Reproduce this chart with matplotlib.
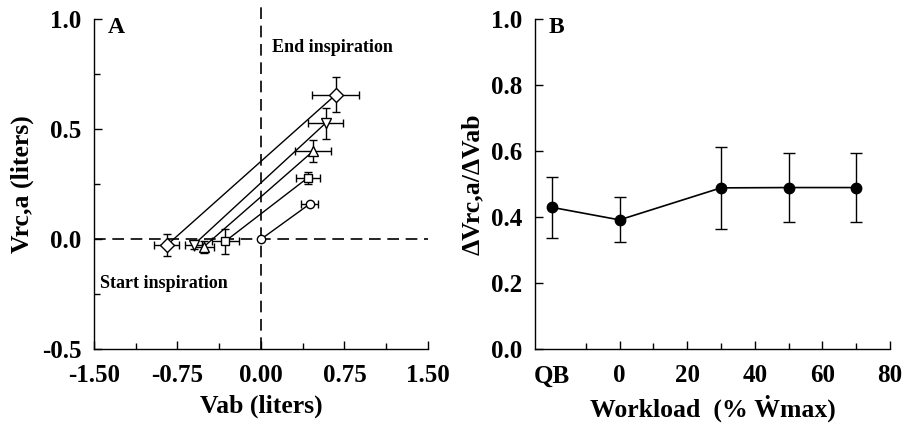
import numpy as np
import matplotlib
matplotlib.use('Agg')
import matplotlib.pyplot as plt

plt.rcParams['font.family'] = ['Liberation Serif', 'DejaVu Serif']
plt.rcParams['font.weight'] = 'bold'

# Panel A: start / end of inspiration per workload level
markers_a = ['o', 's', '^', 'v', 'D']
start_x = [0.0, -0.32, -0.515, -0.605, -0.845]
start_y = [0.0, -0.009, -0.035, -0.026, -0.027]
start_xerr = [0.0, 0.123, 0.09, 0.08, 0.113]
start_yerr = [0.0, 0.057, 0.027, 0.02, 0.05]
end_x = [0.437, 0.422, 0.467, 0.581, 0.671]
end_y = [0.16, 0.28, 0.40, 0.528, 0.657]
end_xerr = [0.078, 0.108, 0.158, 0.16, 0.21]
end_yerr = [0.0, 0.027, 0.051, 0.07, 0.079]
marker_size = [6, 6, 7, 7, 7.5]

# Panel B: slope vs workload (QB plotted at -20)
work_x = [-20, 0, 30, 50, 70]
ratio = [0.43, 0.392, 0.489, 0.49, 0.49]
ratio_err = [0.092, 0.068, 0.124, 0.105, 0.105]

fig = plt.figure(figsize=(9.03, 4.29), dpi=100)
axA = fig.add_axes([0.104, 0.186, 0.370, 0.769])
axB = fig.add_axes([0.5925, 0.186, 0.393, 0.769])

tick_fs = 18
lab_fs = 18.5

# ---- Panel A ----
axA.plot([0, 0], [-0.5, 1.07], color='black', lw=1.2, ls=(0, (7, 4)), clip_on=False, zorder=1)
axA.axhline(0, color='black', lw=1.2, ls=(0, (7, 4)), zorder=1)
for i in range(len(markers_a)):
    axA.plot([start_x[i], end_x[i]], [start_y[i], end_y[i]], color='black', lw=1.0, zorder=2)
    for px, py, ex, ey in [(start_x[i], start_y[i], start_xerr[i], start_yerr[i]),
                           (end_x[i], end_y[i], end_xerr[i], end_yerr[i])]:
        axA.errorbar(px, py, xerr=ex if ex > 0 else None, yerr=ey if ey > 0 else None,
                     fmt=markers_a[i], ms=marker_size[i], mfc='white', mec='black', mew=1.0,
                     ecolor='black', elinewidth=1.0, capsize=3, capthick=1.0, zorder=3)

axA.set_xlim(-1.5, 1.5)
axA.set_ylim(-0.5, 1.0)
axA.set_xticks([-1.5, -0.75, 0, 0.75, 1.5])
axA.set_xticklabels(['-1.50', '-0.75', '0.00', '0.75', '1.50'])
axA.set_xticks([-1.125, -0.375, 0.375, 1.125], minor=True)
axA.set_yticks([-0.5, 0.0, 0.5, 1.0])
axA.set_yticklabels(['-0.5', '0.0', '0.5', '1.0'])
axA.set_yticks([-0.25, 0.25, 0.75], minor=True)
axA.set_xlabel('Vab (liters)', fontsize=lab_fs, fontweight='bold', labelpad=5)
axA.set_ylabel('Vrc,a (liters)', fontsize=lab_fs, fontweight='bold', labelpad=6)
axA.text(0.042, 0.974, 'A', transform=axA.transAxes, fontsize=17, fontweight='bold', va='center')
axA.text(0.533, 0.916, 'End inspiration', transform=axA.transAxes, fontsize=13,
         fontweight='bold', va='center')
axA.text(0.018, 0.20, 'Start inspiration', transform=axA.transAxes, fontsize=13,
         fontweight='bold', va='center')

# ---- Panel B ----
axB.errorbar(work_x, ratio, yerr=ratio_err, fmt='o-', color='black', ms=7.5,
             lw=1.2, elinewidth=1.0, capsize=4, capthick=1.0, zorder=3)
axB.set_xlim(-25, 80)
axB.set_ylim(0.0, 1.0)
axB.set_xticks([-20, 0, 20, 40, 60, 80])
axB.set_xticklabels(['QB', '0', '20', '40', '60', '80'])
axB.set_xticks([-10, 10, 30, 50, 70], minor=True)
axB.xaxis.get_major_ticks()[0].tick1line.set_visible(False)
axB.set_yticks([0.0, 0.2, 0.4, 0.6, 0.8, 1.0])
axB.set_yticklabels(['0.0', '0.2', '0.4', '0.6', '0.8', '1.0'])
axB.set_xlabel('Workload  (% \u1E86max)', fontsize=lab_fs, fontweight='bold', labelpad=5)
axB.set_ylabel('\u0394Vrc,a/\u0394Vab', fontsize=lab_fs, fontweight='bold', labelpad=5)
axB.text(0.037, 0.974, 'B', transform=axB.transAxes, fontsize=17, fontweight='bold', va='center')

for ax in (axA, axB):
    ax.spines['top'].set_visible(False)
    ax.spines['right'].set_visible(False)
    for s in ('left', 'bottom'):
        ax.spines[s].set_linewidth(1.0)
    ax.tick_params(which='major', direction='in', length=6, width=1.0, labelsize=tick_fs, pad=9)
    ax.tick_params(axis='x', which='major', pad=11)
    ax.tick_params(which='minor', direction='in', length=4, width=1.0)
    for lbl in ax.get_xticklabels() + ax.get_yticklabels():
        lbl.set_fontweight('bold')

fig.savefig('out.png', dpi=100)
